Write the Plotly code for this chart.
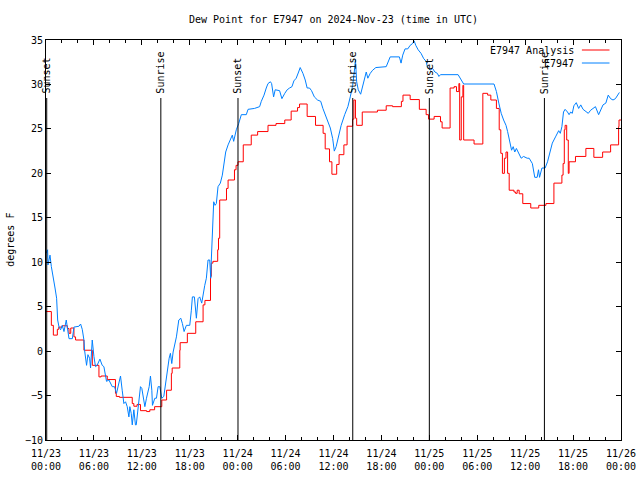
import pandas as pd
import plotly.graph_objects as go

# ---------------- data (hours after 2024-11-23 00:00 UTC) ----------------
start = pd.Timestamp("2024-11-23 00:00")

obs_hours = [0.0, 0.2, 0.25, 0.5, 0.67, 0.92, 1.13, 1.33, 1.46, 1.63, 1.83, 2.04, 2.25, 2.54, 2.67, 2.88,
             3.3, 3.5, 4.13, 4.33, 4.54, 4.75, 4.83, 5.08, 5.25, 5.46, 5.58, 5.79, 6.0, 6.2, 6.4, 6.75,
             7.04, 7.25, 7.58, 7.88, 8.3, 8.58, 8.83, 9.13, 9.33, 9.54, 9.75, 9.96, 10.17, 10.38, 10.5,
             10.67, 10.8, 11.0, 11.2, 11.3, 11.63, 11.83, 12.0, 12.25, 12.38, 12.58, 12.92, 13.08, 13.25,
             13.33, 13.63, 13.83, 14.04, 14.25, 14.5, 14.75, 15.0, 15.17, 15.42, 15.58, 15.75, 15.92,
             16.13, 16.33, 16.63, 16.88, 17.08, 17.29, 17.58, 18.0, 18.2, 18.33, 18.58, 18.75, 18.83,
             19.04, 19.25, 19.5, 19.67, 19.88, 20.08, 20.29, 20.5, 20.63, 20.7, 20.92, 21.0, 21.17,
             21.33, 21.54, 21.83, 22.08, 22.25, 22.5, 22.8, 23.08, 23.33, 23.5, 23.83, 24.13, 24.46,
             25.08, 25.3, 26.1, 26.75, 26.96, 27.3, 27.58, 27.8, 28.1, 28.25, 28.5, 28.7, 29.25, 29.54,
             29.9, 30.2, 30.5, 30.8, 31.04, 31.33, 31.63, 31.83, 32.17, 32.46, 32.7, 33.0, 33.25, 33.6,
             34.0, 34.4, 34.67, 34.96, 35.3, 35.6, 35.9, 36.1, 36.33, 36.6, 36.75, 36.96, 37.4, 37.8,
             38.1, 38.4, 38.6, 38.75, 38.9, 39.1, 39.4, 39.67, 39.9, 40.1, 40.3, 40.6, 40.9, 41.3,
             42.6, 42.9, 43.1, 44.25, 44.46, 44.67, 44.96, 45.3, 45.6, 45.9, 46.1, 46.3, 46.6, 46.96,
             47.3, 47.6, 47.75, 48.1, 48.4, 48.7, 49.0, 49.2, 49.4, 51.6, 51.9, 52.3, 56.1, 56.4, 56.7,
             57.0, 57.3, 57.6, 57.8, 58.1, 58.3, 58.5, 58.7, 58.9, 59.2, 59.5, 59.8, 60.25, 60.5, 60.9,
             61.2, 61.5, 61.67, 61.8, 62.1, 62.5, 62.8, 63.1, 63.4, 63.8, 64.2, 64.4, 64.6, 64.8, 65.0,
             65.3, 65.5, 65.7, 65.9, 66.1, 66.4, 66.7, 66.96, 67.25, 67.6, 67.9, 68.2, 68.5, 68.8,
             69.2, 69.5, 69.75, 70.1, 70.4, 70.7, 71.0, 71.3, 71.7, 71.8]
obs_dew = [11.0, 11.4, 9.7, 10.8, 9.5, 8.4, 7.1, 5.95, 3.5, 2.7, 2.4, 2.9, 2.2, 3.5, 2.4, 1.4,
           1.4, 2.7, 2.8, 3.05, 2.45, 1.25, 0.1, -1.6, -0.4, -0.8, -1.9, 1.25, -0.6, -1.75, -1.6, -0.9,
           -1.6, -1.75, -3.4, -3.25, -4.0, -4.0, -4.75, -3.6, -2.8, -4.4, -5.9, -5.7, -6.25, -7.4, -6.25,
           -7.0, -8.3, -6.6, -8.3, -8.3, -5.1, -4.0, -4.2, -5.5, -6.25, -5.3, -4.0, -2.8, -4.4,
           -6.1, -5.3, -5.3, -4.0, -4.0, -5.3, -5.1, -3.25, -2.1, -0.8, -0.25, -1.4, -0.1,
           0.9, 1.6, 3.5, 3.7, 3.1, 2.2, 2.9, 2.9, 4.6, 6.1, 6.1, 4.6, 3.7,
           5.9, 6.1, 5.4, 6.5, 7.4, 8.2, 10.25, 10.25, 8.2, 10.25, 14.4, 16.8, 16.4,
           16.6, 18.5, 18.9, 19.8, 21.1, 22.4, 23.2, 23.75, 24.3, 23.6, 24.9, 25.6, 26.6,
           26.6, 27.2, 27.3, 27.5, 28.1, 28.8, 29.6, 30.1, 30.3, 30.1, 28.6, 29.4, 29.3, 28.4,
           29.0, 29.4, 29.6, 29.75, 30.4, 30.7, 31.4, 31.9, 31.25, 30.5, 29.6, 29.6, 29.3, 28.6,
           28.25, 28.1, 27.3, 26.6, 25.8, 25.1, 23.9, 22.5, 23.0, 24.1, 24.6, 25.4, 26.6, 27.5,
           28.6, 29.9, 31.4, 32.75, 30.3, 29.4, 28.9, 29.75, 30.7, 31.4, 30.7, 31.25, 31.6, 31.9,
           32.0, 32.75, 33.1, 33.1, 32.4, 33.3, 34.0, 34.0, 34.4, 34.6, 34.9, 34.4, 33.9, 33.5,
           32.9, 32.6, 32.0, 31.6, 31.8, 31.4, 31.25, 30.9, 31.1, 31.1, 30.7, 30.05, 30.05, 29.2, 27.9,
           26.75, 26.0, 25.4, 24.7, 23.4, 22.6, 23.0, 22.4, 22.8, 22.25, 21.7, 21.9, 21.7, 21.7, 21.1,
           19.55, 19.55, 20.4, 19.55, 20.6, 20.6, 21.3, 22.4, 23.4, 24.1, 24.8, 24.5, 25.25, 26.9, 27.2,
           26.9, 26.6, 26.9, 26.75, 27.6, 27.95, 27.3, 27.7, 27.2, 26.9, 26.75, 27.1, 27.3, 27.5,
           26.6, 27.3, 27.7, 27.9, 28.8, 28.4, 28.25, 28.4, 28.9, 29.1]

ana_hours = [0.0, 0.67, 0.92, 1.42, 1.6, 2.04, 2.67, 2.88, 3.1, 3.5, 3.7, 4.75, 5.8, 6.63, 6.9, 7.67,
             8.7, 8.8, 9.2, 10.8, 11.0, 11.4, 11.83, 12.6, 13.0, 13.6, 14.5, 15.1, 15.7, 15.8, 16.75,
             16.8, 17.7, 18.75, 19.67, 19.9, 20.6, 20.7, 20.9, 21.5, 21.6, 21.75, 22.6, 22.8, 23.6,
             23.8, 24.04, 24.7, 25.7, 26.5, 27.8, 28.8, 29.9, 30.7, 31.5, 31.75, 32.7, 33.75, 34.7,
             34.96, 35.5, 35.8, 36.4, 36.7, 37.3, 37.7, 38.4, 38.55, 38.75, 38.9, 39.6, 41.5, 42.6,
             43.4, 44.5, 44.7, 45.6, 46.75, 47.6, 47.9, 48.6, 49.4, 49.6, 50.6, 51.1, 51.4, 51.7,
             51.8, 52.0, 52.2, 52.3, 53.6, 54.7, 55.3, 55.7, 56.4, 56.75, 56.95, 57.15, 57.4, 57.6,
             57.8, 58.0, 58.6, 58.8, 59.0, 59.25, 59.7, 60.7, 61.7, 62.6, 63.6, 64.6, 64.75, 64.9,
             65.0, 65.2, 65.4, 65.5, 66.3, 67.6, 68.6, 69.7, 70.7, 71.7, 71.75, 72.0]
ana_dew = [4.45, 2.9, 1.8, 2.45, 2.7, 2.85, 2.55, 2.0, 2.6, 1.6, 1.25, 0.1, -1.6, -2.9, -2.8, -3.2,
           -4.75, -5.1, -5.2, -5.9, -6.2, -6.0, -6.7, -6.8, -6.6, -6.25, -5.5, -4.4, -2.5, -1.9, 0.1,
           0.95, 2.0, 3.3, 5.2, 5.7, 8.4, 9.9, 10.1, 11.4, 12.7, 17.0, 18.3, 19.25, 20.4,
           20.9, 21.3, 23.2, 24.3, 24.7, 25.4, 25.6, 26.0, 27.0, 27.4, 27.8, 26.4, 25.4, 24.5,
           22.75, 21.3, 19.9, 21.0, 22.1, 23.2, 25.3, 26.1, 28.25, 26.2, 25.4, 26.9, 27.1, 27.6,
           27.5, 28.1, 28.8, 28.3, 27.2, 26.6, 26.1, 26.4, 25.8, 25.1, 29.6, 29.75, 29.2, 30.1,
           23.75, 28.6, 29.9, 23.75, 23.3, 29.0, 28.8, 28.25, 27.3, 24.9, 22.25, 20.0, 21.7, 22.4,
           20.0, 18.1, 17.9, 17.75, 18.1, 17.7, 16.6, 16.1, 16.4, 16.6, 18.9, 19.8, 21.1, 24.9,
           25.4, 23.75, 20.0, 21.3, 21.9, 22.8, 21.8, 22.4, 23.2, 25.25, 26.0, 26.0]

sun_hours = [0.09, 14.38, 24.04, 38.41, 48.0, 62.41]
sun_labels = ["Sunset", "Sunrise", "Sunset", "Sunrise", "Sunset", "Sunrise"]

series_names = ["E7947 Analysis", "E7947"]
series_colors = ["#ff0000", "#0080ff"]


def to_time(hours):
    return [start + pd.Timedelta(hours=h) for h in hours]


FONT = "DejaVu Sans Mono"

fig = go.Figure()
fig.add_trace(go.Scatter(x=to_time(ana_hours), y=ana_dew, mode="lines", name=series_names[0],
                         line=dict(color=series_colors[0], width=1, shape="hv")))
fig.add_trace(go.Scatter(x=to_time(obs_hours), y=obs_dew, mode="lines", name=series_names[1],
                         line=dict(color=series_colors[1], width=1)))

shapes = []
annotations = []
for h, lab in zip(sun_hours, sun_labels):
    tt = start + pd.Timedelta(hours=h)
    shapes.append(dict(type="line", xref="x", yref="paper", x0=tt, x1=tt, y0=0, y1=0.855,
                       line=dict(color="black", width=1)))
    annotations.append(dict(text=lab, xref="x", yref="paper", x=tt, y=0.8605, textangle=-90,
                            xanchor="center", yanchor="bottom", showarrow=False,
                            font=dict(family=FONT, size=10, color="black")))

# legend (gnuplot style: text then sample on the right)
leg_y = [0.975, 0.9425]
for name, col, yy in zip(series_names, series_colors, leg_y):
    annotations.append(dict(text=name, xref="paper", yref="paper", x=0.921, y=yy, xanchor="right",
                            yanchor="middle", showarrow=False,
                            font=dict(family=FONT, size=10, color="black")))
    shapes.append(dict(type="line", xref="paper", yref="paper", x0=0.932, x1=0.98, y0=yy, y1=yy,
                       line=dict(color=col, width=1)))

# y-axis title
annotations.append(dict(text="degrees F", xref="paper", yref="paper", x=-0.063, y=0.5,
                        textangle=-90, xanchor="center", yanchor="middle", showarrow=False,
                        font=dict(family=FONT, size=10, color="black")))

fig.update_layout(
    width=640, height=480,
    margin=dict(l=46, r=19, t=40, b=40, pad=0),
    paper_bgcolor="white", plot_bgcolor="white",
    font=dict(family=FONT, size=10, color="black"),
    showlegend=False,
    hovermode=False,
    title=dict(text="Dew Point for E7947 on 2024-Nov-23 (time in UTC)", x=0.5, xref="paper",
               y=1 - 19 / 480, yanchor="middle", font=dict(family=FONT, size=10, color="black")),
    shapes=shapes,
    annotations=annotations,
)

fig.update_xaxes(
    type="date",
    range=[start, start + pd.Timedelta(hours=72)],
    tick0=start, dtick=6 * 3600 * 1000, tickformat="%m/%d<br>%H:%M",
    ticks="inside", ticklen=5, tickcolor="black", tickwidth=1,
    showline=True, linecolor="black", linewidth=1, mirror="ticks",
    showgrid=False, zeroline=False,
    minor=dict(dtick=2 * 3600 * 1000, tick0=start, ticks="inside", ticklen=3,
               tickcolor="black", showgrid=False),
    tickfont=dict(family=FONT, size=10, color="black"),
    ticklabelstandoff=4,
    automargin=False,
)
fig.update_yaxes(
    range=[-10, 35], dtick=5, tick0=-10,
    ticks="inside", ticklen=5, tickcolor="black", tickwidth=1,
    showline=True, linecolor="black", linewidth=1, mirror="ticks",
    showgrid=False, zeroline=False,
    tickfont=dict(family=FONT, size=10, color="black"),
    automargin=False,
)

fig.write_html("out.html", config={"displayModeBar": False},
               post_script="document.body.style.margin='0px';")
